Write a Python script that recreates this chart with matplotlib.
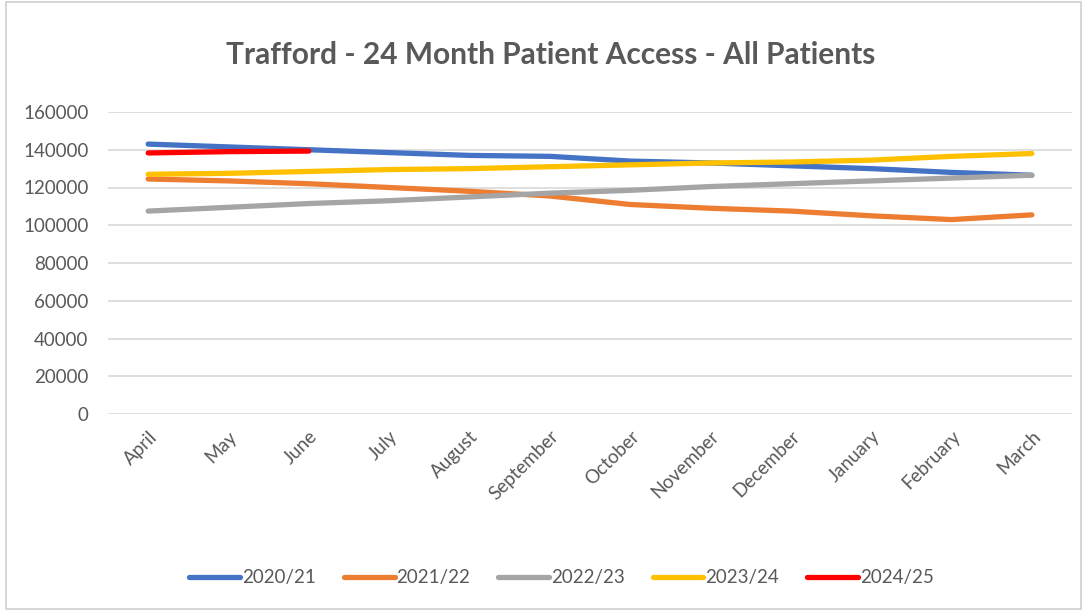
import numpy as np
from matplotlib import pyplot as plt
from matplotlib.patches import Rectangle

months = ['April', 'May', 'June', 'July', 'August', 'September', 'October',
          'November', 'December', 'January', 'February', 'March']
y2020 = [143000, 141500, 140000, 138500, 137000, 136500, 134000, 133000, 131500, 130000, 128000, 126500]
y2021 = [124500, 123500, 122000, 120000, 118000, 115500, 111000, 109000, 107500, 105000, 103000, 105500]
y2022 = [107500, 109500, 111500, 113000, 115000, 117000, 118500, 120500, 122000, 123500, 125000, 126500]
y2023 = [127000, 127500, 128500, 129500, 130000, 131000, 132000, 133000, 133500, 134500, 136500, 138000]
y2024 = [138300, 139000, 139300]
ticks = [0, 20000, 40000, 60000, 80000, 100000, 120000, 140000, 160000]

plt.rcParams['font.family'] = ['Lato', 'DejaVu Sans']
txt = '#595959'

fig = plt.figure(figsize=(10.84, 6.11), dpi=100)
ax = fig.add_axes([108/1084, 1-414/611, (1072-108)/1084, (414-112)/611])

x = np.arange(len(months))
ax.plot(x, y2020, color='#4472C4', lw=3.8, solid_capstyle='round', label='2020/21')
ax.plot(x, y2021, color='#ED7D31', lw=3.8, solid_capstyle='round', label='2021/22')
ax.plot(x, y2022, color='#A5A5A5', lw=3.8, solid_capstyle='round', label='2022/23')
ax.plot(x, y2023, color='#FFC000', lw=3.8, solid_capstyle='round', label='2023/24')
ax.plot(x[:len(y2024)], y2024, color='#FF0000', lw=3.8, solid_capstyle='round', label='2024/25')

ax.set_xlim(-0.5, len(months)-0.5)
ax.set_ylim(0, 160000)
ax.set_yticks(ticks)
ax.set_yticklabels([str(t) for t in ticks], fontsize=13.5, color=txt)
ax.set_xticks(x)
ax.set_xticklabels(months, rotation=45, ha='right', rotation_mode='anchor', fontsize=13.5, color=txt)
ax.tick_params(axis='y', length=0, pad=14)
ax.tick_params(axis='x', length=0, pad=10)
ax.grid(axis='y', color='#D9D9D9', lw=1.2)
ax.set_axisbelow(True)
for s in ax.spines.values():
    s.set_visible(False)

fig.text(0.508, 1-55/611, 'Trafford - 24 Month Patient Access - All Patients',
         ha='center', va='center', fontsize=21.5, fontweight='bold', color=txt)

leg = fig.legend(loc='center', bbox_to_anchor=(0.518, 1-578/611), ncol=5, frameon=False,
                 fontsize=13.5, handlelength=2.7, handletextpad=0.1, columnspacing=1.5)
for t in leg.get_texts():
    t.set_color(txt)

fig.patches.append(Rectangle((6/1084, 2/611), 1075/1084, 607/611, transform=fig.transFigure,
                             fill=False, edgecolor='#D0D0D0', lw=1.2))

fig.savefig('out.png', dpi=100)
